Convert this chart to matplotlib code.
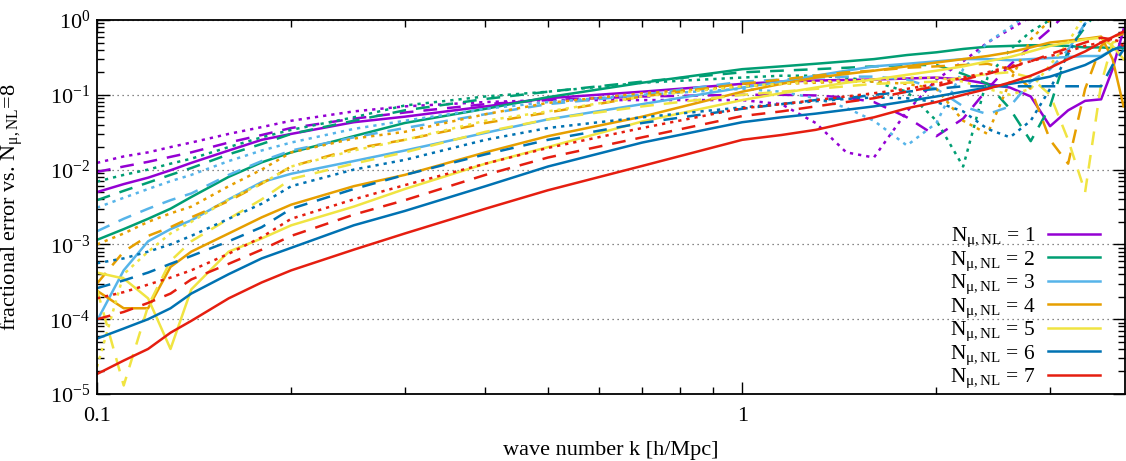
import matplotlib
matplotlib.use("Agg")
import matplotlib.pyplot as plt
from matplotlib.lines import Line2D
from matplotlib.ticker import FixedLocator, NullFormatter

plt.rcParams['font.family'] = ['Liberation Serif', 'DejaVu Serif']
plt.rcParams['mathtext.fontset'] = 'custom'
plt.rcParams['mathtext.rm'] = 'Liberation Serif'
plt.rcParams['mathtext.it'] = 'Liberation Serif:italic'
plt.rcParams['mathtext.bf'] = 'Liberation Serif:bold'

# wave numbers [h/Mpc]
k = [0.1, 0.11, 0.12, 0.13, 0.14, 0.16, 0.18, 0.2, 0.25, 0.3, 0.4, 0.5, 0.7, 1.0,
     1.15, 1.3, 1.45, 1.6, 1.8, 2.0, 2.2, 2.4, 2.6, 2.8, 3.0, 3.2, 3.4, 3.6, 3.75, 3.9]

# fractional errors (solid / dashed / dotted per N)
n1_solid = [5.0e-3, 6.4e-3, 7.8e-3, 9.8e-3, 0.0123, 0.018, 0.025, 0.03, 0.043, 0.051, 0.07, 0.09, 0.11, 0.14,
            0.15, 0.155, 0.158, 0.16, 0.165, 0.17, 0.16, 0.14, 0.125, 0.095, 0.038, 0.062, 0.083, 0.087, 0.22, 0.75]
n1_dash = [9.3e-3, 0.011, 0.0127, 0.0148, 0.017, 0.023, 0.029, 0.036, 0.048, 0.058, 0.075, 0.085, 0.095, 0.1,
           0.1, 0.098, 0.092, 0.08, 0.05, 0.028, 0.048, 0.12, 0.25, 0.45, 0.75, 1.3, 2, 2, 2, 2]
n1_dot = [0.0123, 0.015, 0.017, 0.02, 0.023, 0.03, 0.037, 0.045, 0.06, 0.07, 0.08, 0.085, 0.085, 0.085,
          0.075, 0.042, 0.017, 0.0145, 0.06, 0.16, 0.28, 0.5, 0.75, 1.1, 2, 2, 2, 2, 2, 2]

n2_solid = [1.15e-3, 1.6e-3, 2.2e-3, 3.0e-3, 4.3e-3, 8.0e-3, 0.0125, 0.017, 0.028, 0.042, 0.065, 0.093, 0.145, 0.22,
            0.24, 0.26, 0.28, 0.3, 0.34, 0.37, 0.41, 0.44, 0.45, 0.46, 0.46, 0.45, 0.43, 0.43, 0.42, 0.42]
n2_dash = [3.9e-3, 5.2e-3, 6.7e-3, 8.5e-3, 0.0105, 0.016, 0.022, 0.03, 0.045, 0.062, 0.088, 0.11, 0.15, 0.2,
           0.21, 0.22, 0.23, 0.24, 0.25, 0.25, 0.19, 0.14, 0.065, 0.024, 0.07, 0.4, 0.8, 1.5, 2, 2]
n2_dot = [6.9e-3, 8.5e-3, 0.01, 0.012, 0.014, 0.02, 0.027, 0.034, 0.05, 0.072, 0.095, 0.11, 0.145, 0.17,
          0.18, 0.18, 0.17, 0.15, 0.11, 0.045, 0.011, 0.17, 0.4, 0.7, 1.0, 2, 2, 2, 2, 2]

n3_solid = [9.5e-5, 4.5e-4, 1.1e-3, 1.6e-3, 2.1e-3, 4.0e-3, 6.8e-3, 8.8e-3, 0.013, 0.018, 0.031, 0.047, 0.075, 0.125,
            0.15, 0.18, 0.21, 0.24, 0.26, 0.28, 0.3, 0.3, 0.29, 0.3, 0.31, 0.32, 0.33, 0.33, 0.4, 0.45]
n3_dash = [1.5e-3, 2.2e-3, 3.0e-3, 3.9e-3, 4.8e-3, 8.5e-3, 0.013, 0.018, 0.027, 0.036, 0.055, 0.075, 0.1, 0.15,
           0.16, 0.17, 0.175, 0.175, 0.16, 0.12, 0.07, 0.055, 0.07, 0.15, 0.22, 0.4, 0.9, 1.5, 2, 2]
n3_dot = [3.1e-3, 4.2e-3, 5.5e-3, 7e-3, 8.5e-3, 0.013, 0.018, 0.023, 0.035, 0.045, 0.065, 0.08, 0.1, 0.12,
          0.11, 0.09, 0.067, 0.045, 0.021, 0.042, 0.22, 0.5, 0.8, 1.3, 2, 2, 2, 2, 2, 2]

n4_solid = [2.4e-4, 1.4e-4, 1.4e-4, 5e-4, 8e-4, 1.4e-3, 2.3e-3, 3.4e-3, 6e-3, 8.5e-3, 0.017, 0.028, 0.051, 0.11,
            0.14, 0.17, 0.19, 0.21, 0.24, 0.27, 0.3, 0.33, 0.37, 0.43, 0.5, 0.53, 0.56, 0.6, 0.3, 0.07]
n4_dash = [3e-4, 8e-4, 1.3e-3, 1.7e-3, 2.3e-3, 3.8e-3, 6.5e-3, 0.011, 0.019, 0.025, 0.042, 0.058, 0.095, 0.14,
           0.16, 0.18, 0.2, 0.21, 0.23, 0.24, 0.25, 0.26, 0.22, 0.12, 0.025, 0.012, 0.12, 0.45, 0.6, 0.65]
n4_dot = [1.0e-3, 1.4e-3, 2.0e-3, 2.6e-3, 3.2e-3, 6e-3, 0.01, 0.017, 0.026, 0.032, 0.055, 0.078, 0.105, 0.13,
          0.14, 0.145, 0.15, 0.15, 0.14, 0.12, 0.045, 0.03, 0.15, 0.55, 1.0, 2, 2, 2, 2, 2]

n5_solid = [4.2e-4, 3.5e-4, 1.9e-4, 4e-5, 2.5e-4, 8e-4, 1.2e-3, 1.8e-3, 3.2e-3, 5.5e-3, 0.012, 0.02, 0.044, 0.085,
            0.105, 0.125, 0.145, 0.16, 0.185, 0.21, 0.24, 0.28, 0.32, 0.38, 0.45, 0.5, 0.55, 0.58, 0.45, 0.3]
n5_dash = [2.5e-4, 1.3e-5, 1.5e-4, 6e-4, 1.1e-3, 2.2e-3, 4e-3, 7.5e-3, 0.012, 0.017, 0.032, 0.047, 0.07, 0.1,
           0.11, 0.12, 0.13, 0.14, 0.145, 0.15, 0.17, 0.19, 0.2, 0.17, 0.1, 0.025, 0.005, 0.14, 0.5, 0.55]
n5_dot = [2.3e-5, 4e-4, 8e-4, 1.4e-3, 2e-3, 4e-3, 6.5e-3, 0.011, 0.018, 0.025, 0.045, 0.06, 0.095, 0.13,
          0.14, 0.15, 0.155, 0.16, 0.17, 0.17, 0.15, 0.12, 0.1, 0.12, 0.25, 0.5, 1.2, 2, 2, 2]

n6_solid = [5.5e-5, 7.5e-5, 1.0e-4, 1.4e-4, 2.2e-4, 4.0e-4, 6.5e-4, 9e-4, 1.8e-3, 2.8e-3, 6e-3, 0.011, 0.023, 0.043,
            0.05, 0.056, 0.063, 0.07, 0.082, 0.095, 0.11, 0.125, 0.14, 0.155, 0.175, 0.21, 0.25, 0.32, 0.4, 0.45]
n6_dash = [2.6e-4, 3.3e-4, 4.2e-4, 5.5e-4, 7e-4, 1.1e-3, 1.7e-3, 3.0e-3, 5.5e-3, 8.5e-3, 0.016, 0.025, 0.042, 0.065,
           0.075, 0.085, 0.09, 0.1, 0.11, 0.12, 0.13, 0.13, 0.13, 0.13, 0.13, 0.13, 0.13, 0.13, 0.25, 0.4]
n6_dot = [5.6e-4, 6.5e-4, 8e-4, 1.0e-3, 1.3e-3, 2.2e-3, 3.5e-3, 6e-3, 0.01, 0.0135, 0.025, 0.036, 0.05, 0.068,
          0.075, 0.082, 0.088, 0.092, 0.09, 0.08, 0.06, 0.035, 0.027, 0.045, 0.12, 0.35, 0.9, 2, 2, 2]

n7_solid = [1.85e-5, 2.8e-5, 4e-5, 6.6e-5, 9.5e-5, 1.9e-4, 3.1e-4, 4.5e-4, 8.5e-4, 1.4e-3, 3.0e-3, 5.3e-3, 0.0112, 0.025,
            0.029, 0.034, 0.042, 0.05, 0.066, 0.08, 0.1, 0.12, 0.146, 0.18, 0.23, 0.3, 0.38, 0.5, 0.59, 0.7]
n7_dash = [1.0e-4, 1.25e-4, 1.65e-4, 2.2e-4, 3.4e-4, 5.5e-4, 8.5e-4, 1.3e-3, 2.5e-3, 3.9e-3, 8.5e-3, 0.0145, 0.027, 0.052,
           0.06, 0.07, 0.08, 0.09, 0.11, 0.13, 0.16, 0.19, 0.23, 0.28, 0.35, 0.42, 0.5, 0.58, 0.55, 0.45]
n7_dot = [1.9e-4, 2.3e-4, 2.9e-4, 3.6e-4, 4.5e-4, 7.5e-4, 1.25e-3, 2.2e-3, 4e-3, 6.2e-3, 0.012, 0.0195, 0.036, 0.066,
          0.075, 0.085, 0.095, 0.105, 0.12, 0.14, 0.17, 0.2, 0.24, 0.28, 0.33, 0.38, 0.45, 0.5, 0.55, 0.5]

colors = ['#9400d3', '#009e73', '#56b4e9', '#e69f00', '#f0e442', '#0072b2', '#e51e10']
solids = [n1_solid, n2_solid, n3_solid, n4_solid, n5_solid, n6_solid, n7_solid]
dashes = [n1_dash, n2_dash, n3_dash, n4_dash, n5_dash, n6_dash, n7_dash]
dots = [n1_dot, n2_dot, n3_dot, n4_dot, n5_dot, n6_dot, n7_dot]

fig = plt.figure(figsize=(11.26, 4.61), dpi=100)
ax = fig.add_axes([97 / 1126, 67 / 461, 1028 / 1126, 374 / 461])

lw = 1.8
for i in range(7):
    ax.plot(k, solids[i], color=colors[i], lw=lw)
    ax.plot(k, dashes[i], color=colors[i], lw=lw, dashes=(5.5, 4))
    ax.plot(k, dots[i], color=colors[i], lw=lw, dashes=(1.3, 2))

ax.set_xscale('log')
ax.set_yscale('log')
ax.set_xlim(0.1, 3.92)
ax.set_ylim(1e-5, 1)

ax.set_xticks([0.1, 1])
ax.set_xticklabels(['0.1', '1'])
ax.xaxis.set_minor_locator(FixedLocator([0.2, 0.3, 0.4, 0.5, 0.6, 0.7, 0.8, 0.9, 2, 3]))
ax.xaxis.set_minor_formatter(NullFormatter())
yt = [1e-5, 1e-4, 1e-3, 1e-2, 1e-1, 1]
ax.set_yticks(yt)
ax.set_yticklabels([r'10$^{-5}$', r'10$^{-4}$', r'10$^{-3}$', r'10$^{-2}$', r'10$^{-1}$', r'10$^{0}$'])
ax.yaxis.set_minor_locator(FixedLocator([m * 10.0 ** e for e in range(-5, 0) for m in range(2, 10)]))
ax.yaxis.set_minor_formatter(NullFormatter())

ax.tick_params(which='both', direction='in', top=True, right=True, labelsize=16, width=1)
ax.tick_params(which='major', length=9)
ax.tick_params(which='minor', length=5)
ax.tick_params(axis='x', pad=9)
ax.tick_params(axis='y', pad=5)
for s in ax.spines.values():
    s.set_linewidth(1.3)

ax.yaxis.grid(True, which='major', color='#606060', lw=0.9, linestyle=(0, (1, 3)))

ax.set_xlabel('wave number k [h/Mpc]', fontsize=16)
ax.set_ylabel(r'fractional error vs. N$_{\mathrm{μ,NL}}$=8', fontsize=16)
ax.xaxis.set_label_coords(0.5, -0.125)
ax.yaxis.set_label_coords(-0.07, 0.5)

handles = [Line2D([], [], color=c, lw=lw) for c in colors]
labels = [r'N$_{\mathrm{μ,NL}}$ = %d' % (i + 1) for i in range(7)]
ax.legend(handles, labels, loc='lower right', bbox_to_anchor=(0.99, -0.03), frameon=False,
          markerfirst=False, fontsize=15.5, handlelength=2.4, handletextpad=0.6,
          labelspacing=0.0, borderpad=0.2)

fig.savefig('out.png', dpi=100)
